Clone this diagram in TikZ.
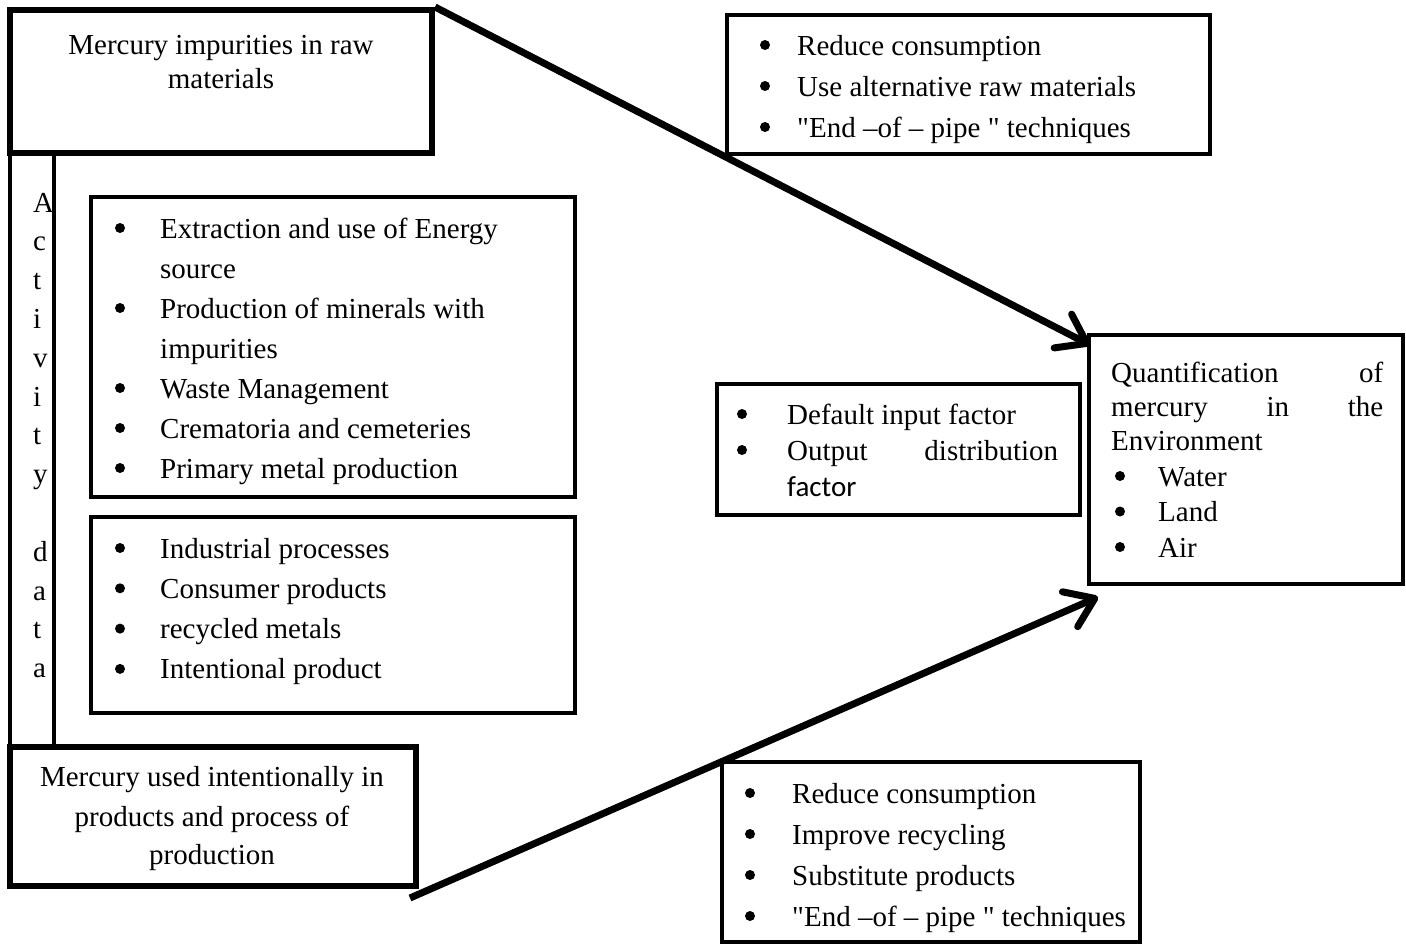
\documentclass[tikz,border=0pt]{standalone}
\usepackage{fontspec}
\setmainfont{Liberation Serif}[Ligatures=TeXOff]
\newfontfamily\calibrifont{Carlito}
\usetikzlibrary{arrows.meta}

\tikzset{
  thickbox/.style={draw, line width=6pt, inner sep=0pt},
  thinbox/.style={draw, line width=4pt, inner sep=0pt},
  txt/.style={inner sep=0pt, font=\fontsize{29}{40}\selectfont, anchor=base west},
  ctxt/.style={txt, anchor=base},
  bul/.style={circle, fill, inner sep=0pt, minimum size=10pt},
  bigarrow/.style={line width=7pt, -{Straight Barb[length=27pt,width=38pt,round]}}
}

\begin{document}
\begin{tikzpicture}[x=1pt,y=-1pt]
\useasboundingbox (0,0) rectangle (1406,945);

% boxes
\node[thickbox, minimum width=422pt, minimum height=143pt] (raw) at (221,81.5) {};
\node[thinbox, minimum width=44pt, minimum height=594pt] (actv) at (32,450) {};
\node[thinbox, minimum width=484pt, minimum height=300pt] (ext) at (333,347) {};
\node[thinbox, minimum width=484pt, minimum height=196pt] (ind) at (333,615) {};
\node[thickbox, minimum width=406pt, minimum height=139pt] (intent) at (213,816.5) {};
\node[thinbox, minimum width=483pt, minimum height=139pt] (redtop) at (968.5,84.5) {};
\node[thinbox, minimum width=363pt, minimum height=131pt] (fact) at (898.5,449.5) {};
\node[thinbox, minimum width=314pt, minimum height=249pt] (quant) at (1246,459.5) {};
\node[thinbox, minimum width=418pt, minimum height=180pt] (redbot) at (931,852) {};

% titles
\node[ctxt] (raw1) at (221,54) {Mercury impurities in raw};
\node[ctxt] (raw2) at (221,88) {materials};
\node[ctxt] (intent1) at (212,786) {Mercury used intentionally in};
\node[ctxt] (intent2) at (212,826) {products and process of};
\node[ctxt] (intent3) at (212,864) {production};

% Activity data, one letter a line
\foreach \c/\i in {A/0,c/1,t/2,i/3,v/4,i/5,t/6,y/7,d/9,a/10,t/11,a/12}
  \node[txt] (act\i) at (33,{212+38.8*\i}) {\c};

% sources
\foreach \t [count=\i from 0] in {Extraction and use of Energy, source, Production of minerals with, impurities, Waste Management, Crematoria and cemeteries, Primary metal production}
  \node[txt] (ext\i) at (160,{238+40*\i}) {\t};
\foreach \i in {0,2,4,5,6}
  \node[bul] (extb\i) at (120,{228+40*\i}) {};

\foreach \t [count=\i from 0] in {Industrial processes, Consumer products, recycled metals, Intentional product}{
  \node[txt] (ind\i) at (160,{558+40.3*\i}) {\t};
  \node[bul] (indb\i) at (120,{548+40.3*\i}) {};
}

% measures
\foreach \t [count=\i from 0] in {Reduce consumption, Use alternative raw materials, "End –of – pipe " techniques}{
  \node[txt] (redtop\i) at (797,{55+41*\i}) {\t};
  \node[bul] (redtopb\i) at (765,{45+41*\i}) {};
}
\foreach \t [count=\i from 0] in {Reduce consumption, Improve recycling, Substitute products, "End –of – pipe " techniques}{
  \node[txt] (redbot\i) at (792,{803+41*\i}) {\t};
  \node[bul] (redbotb\i) at (750,{793+41*\i}) {};
}

% factors
\node[txt] (fact0) at (787,424) {Default input factor};
\node[txt] (fact1) at (787,460) {\hbox to 271pt{Output\hfill distribution}};
\node[txt] (fact2) at (787,496) {\calibrifont factor};
\node[bul] (factb0) at (742,414) {};
\node[bul] (factb1) at (742,450) {};

% quantification
\node[txt] (quant0) at (1111,382) {\hbox to 272pt{Quantification\hfill of}};
\node[txt] (quant1) at (1111,416) {\hbox to 272pt{mercury\hfill in\hfill the}};
\node[txt] (quant2) at (1111,450) {Environment};
\foreach \t [count=\i from 0] in {Water, Land, Air}{
  \node[txt] (env\i) at (1158,{486+35.5*\i}) {\t};
  \node[bul] (envb\i) at (1120,{476+35.5*\i}) {};
}

% arrows
\draw[bigarrow] (raw.north east) -- ([shift={(3,12)}]quant.north west);
\draw[bigarrow] ([shift={(-9,9)}]intent.south east) -- ([shift={(11,11)}]quant.south west);

\end{tikzpicture}
\end{document}
